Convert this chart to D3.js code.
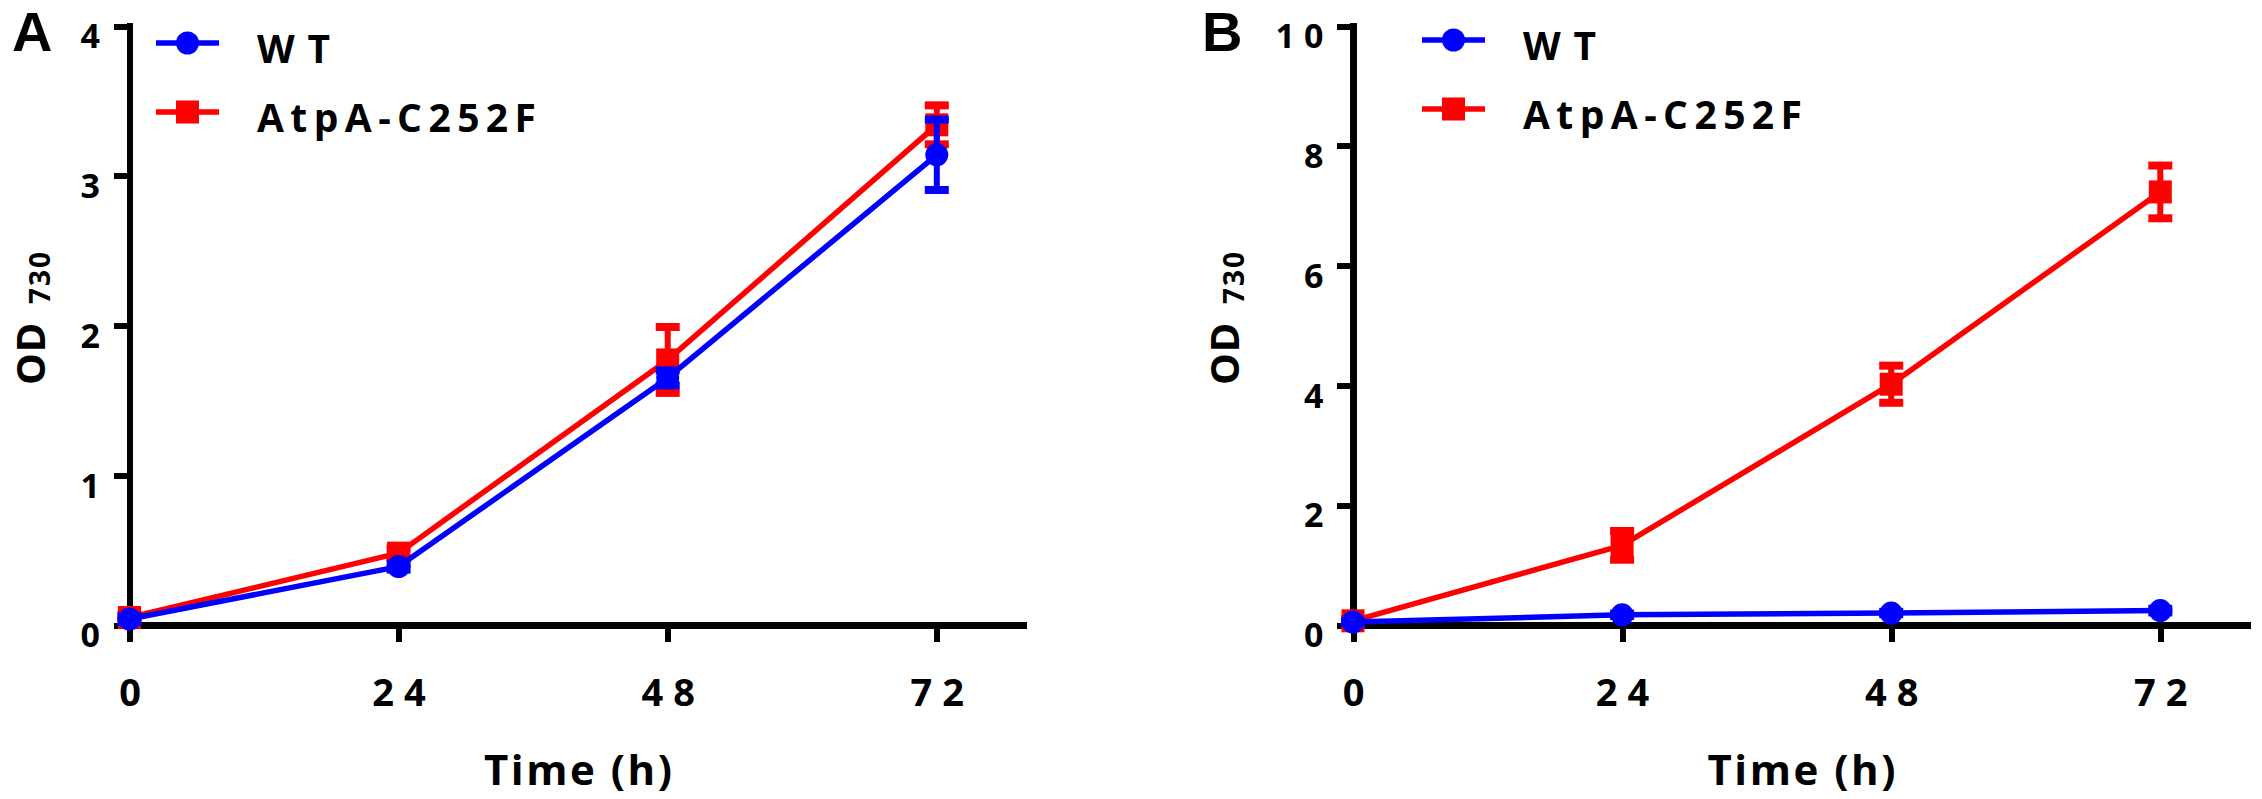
<!DOCTYPE html>
<html>
<head>
<meta charset="utf-8">
<script src="https://cdn.jsdelivr.net/npm/d3@7"></script>
<style>
	body { margin: 0; background: #ffffff; }
	svg { display: block; }
	text { font-family: "Open Sans", "Noto Sans", sans-serif; font-weight: bold; fill: #000000; }
	.panelLabel { font-family: "Liberation Sans", Arial, sans-serif; }
</style>
</head>
<body>
<svg id="visSVG" width="2262" height="799"></svg>
<script>
/* =============================================
 * OD730 growth curves, WT vs AtpA-C252F
 * =============================================
 */

// ---- data ----
var timePoints = [0, 24, 48, 72];
var xTicks = [0, 24, 48, 72];
var seriesNames = ["WT", "AtpA-C252F"];

// panel A
var yTicksA = [0, 1, 2, 3, 4];
var wtMeanA  = [0.04, 0.39, 1.65, 3.14];
var wtErrA   = [0.02, 0.02, 0.05, 0.235];
var mutMeanA = [0.05, 0.48, 1.77, 3.34];
var mutErrA  = [0.02, 0.03, 0.22, 0.13];

// panel B
var yTicksB = [0, 2, 4, 6, 8, 10];
var wtMeanB  = [0.05, 0.17, 0.20, 0.24];
var wtErrB   = [0.01, 0.02, 0.02, 0.03];
var mutMeanB = [0.07, 1.33, 4.02, 7.23];
var mutErrB  = [0.03, 0.24, 0.31, 0.44];

// ---- layout ----
var PLOT_TOP = 26, PLOT_BOTTOM = 625;
var PLOT_W = 897;            // width of x domain [0, 80]
var X_MAX = 80;
var AXIS_W = 6.5, TICK_W = 6;
var Y_TICK_LEN = 16, X_TICK_LEN = 17;
var LINE_W = 5.5;
var MARKER_R = 11.5, MARKER_S = 23;
var CAP_W = 24, CAP_H = 8, STEM_W = 6;

var COLORS = ["#0000ff", "#ff0000"];

var svg = d3.select("#visSVG");

function drawPanel(p)
{
	var g = svg.append("g")
		.attr("transform", "translate(" + p.axisX + ",0)");

	var x = d3.scaleLinear().domain([0, X_MAX]).range([0, PLOT_W]);
	var y = d3.scaleLinear().domain([0, p.yMax]).range([PLOT_BOTTOM, PLOT_TOP]);

	// x axis
	var xAxis = g.append("g")
		.attr("transform", "translate(0," + PLOT_BOTTOM + ")")
		.call(d3.axisBottom(x).tickValues(xTicks).tickFormat(d3.format("d"))
			.tickSize(X_TICK_LEN).tickSizeOuter(0).tickPadding(0));
	xAxis.select(".domain").attr("stroke", "#000").attr("stroke-width", AXIS_W);
	xAxis.selectAll(".tick line").attr("stroke", "#000").attr("stroke-width", TICK_W);
	xAxis.selectAll(".tick text")
		.attr("y", 81).attr("dy", null).attr("dx", 5)
		.style("font-size", "38px").style("letter-spacing", "10px");

	// y axis
	var yAxis = g.append("g")
		.call(d3.axisLeft(y).tickValues(p.yTicks).tickFormat(d3.format("d"))
			.tickSize(Y_TICK_LEN).tickSizeOuter(0));
	yAxis.select(".domain").attr("stroke", "#000").attr("stroke-width", AXIS_W)
		.attr("stroke-linecap", "square");
	yAxis.selectAll(".tick line").attr("stroke", "#000").attr("stroke-width", TICK_W);
	yAxis.selectAll(".tick text")
		.attr("x", -20.5).attr("dy", "0.64em")
		.style("font-size", "34px").style("letter-spacing", "9px");
	yAxis.selectAll("path, line").attr("shape-rendering", "crispEdges");
	xAxis.selectAll("path, line").attr("shape-rendering", "crispEdges");

	// axis titles
	g.append("text")
		.attr("x", x(40)).attr("y", 785)
		.attr("text-anchor", "middle")
		.attr("textLength", 188).attr("lengthAdjust", "spacing")
		.style("font-size", "42px")
		.text("Time (h)");

	var yt = g.append("g")
		.attr("transform", "translate(" + (p.titleX - p.axisX) + ",385) rotate(-90)");
	yt.append("text")
		.style("font-size", "40px").style("letter-spacing", "1px")
		.text("OD");
	yt.append("text")
		.attr("x", 81).attr("y", 5)
		.style("font-size", "28px").style("letter-spacing", "2px")
		.text("730");

	// panel letter
	svg.append("text")
		.attr("class", "panelLabel")
		.attr("x", p.labelX).attr("y", 51)
		.style("font-size", "56px")
		.text(p.label);

	// series: mutant first, WT drawn on top
	var series = [
		{ name: seriesNames[1], mean: p.mutMean, err: p.mutErr, color: COLORS[1], shape: "square" },
		{ name: seriesNames[0], mean: p.wtMean, err: p.wtErr, color: COLORS[0], shape: "circle" }
	];

	var line = d3.line()
		.x(function(d) { return x(d.t); })
		.y(function(d) { return y(d.v); });

	series.forEach(function(s) {
		var pts = timePoints.map(function(t, i) { return { t: t, v: s.mean[i], e: s.err[i] }; });
		var sg = g.append("g");

		sg.append("path")
			.datum(pts)
			.attr("d", line)
			.attr("fill", "none")
			.attr("stroke", s.color)
			.attr("stroke-width", LINE_W)
			.attr("stroke-linejoin", "round");

		// error bars
		var eb = sg.selectAll(".err").data(pts).enter().append("g");
		eb.append("line")
			.attr("x1", function(d) { return x(d.t); })
			.attr("x2", function(d) { return x(d.t); })
			.attr("y1", function(d) { return y(d.v + d.e); })
			.attr("y2", function(d) { return y(d.v - d.e); })
			.attr("stroke", s.color).attr("stroke-width", STEM_W);
		[1, -1].forEach(function(sign) {
			eb.append("rect")
				.attr("x", function(d) { return x(d.t) - CAP_W / 2; })
				.attr("y", function(d) { return y(d.v + sign * d.e) - CAP_H / 2; })
				.attr("width", CAP_W).attr("height", CAP_H)
				.attr("fill", s.color);
		});

		// markers
		if (s.shape == "circle")
		{
			sg.selectAll(".mk").data(pts).enter().append("circle")
				.attr("cx", function(d) { return x(d.t); })
				.attr("cy", function(d) { return y(d.v); })
				.attr("r", MARKER_R)
				.attr("fill", s.color);
		}
		else
		{
			sg.selectAll(".mk").data(pts).enter().append("rect")
				.attr("x", function(d) { return x(d.t) - MARKER_S / 2; })
				.attr("y", function(d) { return y(d.v) - MARKER_S / 2; })
				.attr("width", MARKER_S).attr("height", MARKER_S)
				.attr("fill", s.color);
		}
	});

	// legend
	var lg = svg.append("g")
		.attr("transform", "translate(" + p.legendX + "," + p.legendY + ")");
	[0, 1].forEach(function(i) {
		var row = lg.append("g").attr("transform", "translate(0," + (i * 69) + ")");
		row.append("line")
			.attr("x1", 0).attr("x2", 63)
			.attr("stroke", COLORS[i]).attr("stroke-width", LINE_W);
		if (i == 0)
			row.append("circle").attr("cx", 31.5).attr("r", MARKER_R).attr("fill", COLORS[i]);
		else
			row.append("rect")
				.attr("x", 31.5 - MARKER_S / 2).attr("y", -MARKER_S / 2)
				.attr("width", MARKER_S).attr("height", MARKER_S)
				.attr("fill", COLORS[i]);
		row.append("text")
			.attr("x", 101).attr("y", 20)
			.attr("textLength", i == 0 ? 73 : 279).attr("lengthAdjust", "spacing")
			.style("font-size", "39px")
			.text(seriesNames[i]);
	});
}

drawPanel({
	label: "A", labelX: 12,
	axisX: 129.5, titleX: 45,
	yMax: 4, yTicks: yTicksA,
	wtMean: wtMeanA, wtErr: wtErrA, mutMean: mutMeanA, mutErr: mutErrA,
	legendX: 156, legendY: 43
});

drawPanel({
	label: "B", labelX: 1202,
	axisX: 1353, titleX: 1239,
	yMax: 10, yTicks: yTicksB,
	wtMean: wtMeanB, wtErr: wtErrB, mutMean: mutMeanB, mutErr: mutErrB,
	legendX: 1422, legendY: 40
});
</script>
</body>
</html>
